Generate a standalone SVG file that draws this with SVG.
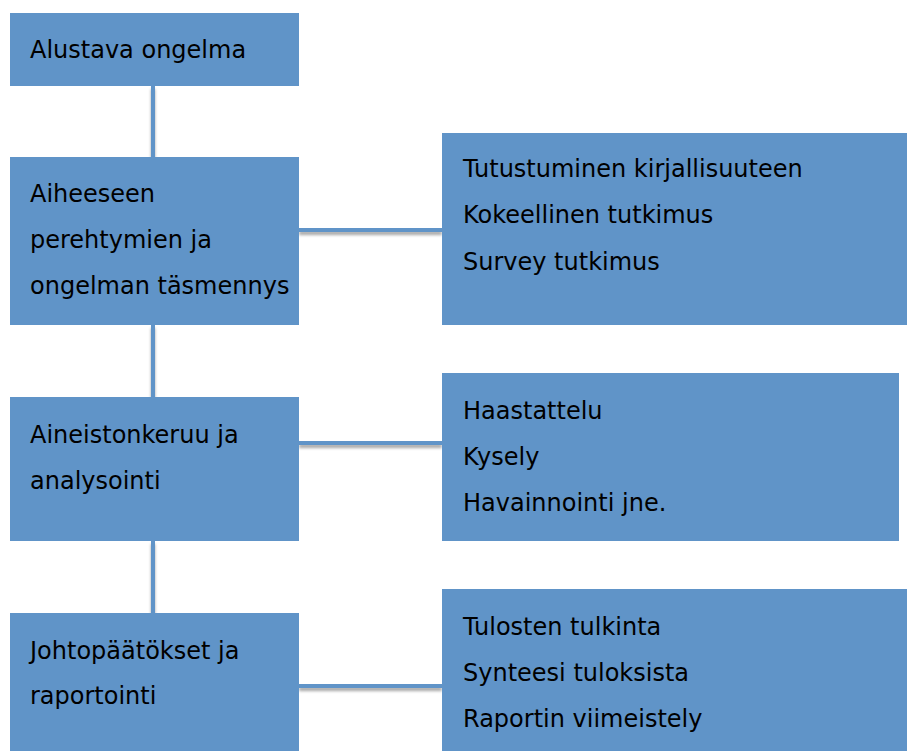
<svg xmlns="http://www.w3.org/2000/svg" width="907" height="751" viewBox="0 0 907 751">
<defs>
<filter id="sh" filterUnits="userSpaceOnUse" x="0" y="0" width="907" height="751">
<feDropShadow dx="0" dy="3" stdDeviation="1.5" flood-color="#000" flood-opacity="0.35"/>
</filter>
</defs>
<style>
.box{fill:#6094C8;}
.t{font-family:"DejaVu Sans",Verdana,sans-serif;font-size:24px;fill:#000;}
.c{stroke:#6094C8;stroke-width:4;fill:none;filter:url(#sh);}
</style>
<rect width="907" height="751" fill="#fff"/>
<g id="connectors">
<line class="c" x1="153" y1="86" x2="153" y2="157"/>
<line class="c" x1="153" y1="325" x2="153" y2="397"/>
<line class="c" x1="153" y1="541" x2="153" y2="613"/>
<line class="c" x1="299" y1="230" x2="442" y2="230"/>
<line class="c" x1="299" y1="443" x2="442" y2="443"/>
<line class="c" x1="299" y1="686" x2="442" y2="686"/>
</g>
<g id="n1"><rect class="box" x="10" y="13" width="289" height="73"/>
<text class="t" x="30" y="58">Alustava ongelma</text></g>
<g id="n2"><rect class="box" x="10" y="157" width="289" height="168"/>
<text class="t" x="30" y="202">Aiheeseen</text>
<text class="t" x="30" y="248">perehtymien ja</text>
<text class="t" x="30" y="294">ongelman täsmennys</text></g>
<g id="n3"><rect class="box" x="10" y="397" width="289" height="144"/>
<text class="t" x="30" y="443">Aineistonkeruu ja</text>
<text class="t" x="30" y="489">analysointi</text></g>
<g id="n4"><rect class="box" x="10" y="613" width="289" height="138"/>
<text class="t" x="30" y="659">Johtopäätökset ja</text>
<text class="t" x="30" y="704">raportointi</text></g>
<g id="r1"><rect class="box" x="442" y="133" width="465" height="192"/>
<text class="t" x="463" y="177">Tutustuminen kirjallisuuteen</text>
<text class="t" x="463" y="223">Kokeellinen tutkimus</text>
<text class="t" x="463" y="270">Survey tutkimus</text></g>
<g id="r2"><rect class="box" x="442" y="373" width="457" height="168"/>
<text class="t" x="463" y="419">Haastattelu</text>
<text class="t" x="463" y="465">Kysely</text>
<text class="t" x="463" y="511">Havainnointi jne.</text></g>
<g id="r3"><rect class="box" x="442" y="589" width="465" height="162"/>
<text class="t" x="463" y="635">Tulosten tulkinta</text>
<text class="t" x="463" y="681">Synteesi tuloksista</text>
<text class="t" x="463" y="727">Raportin viimeistely</text></g>
</svg>
